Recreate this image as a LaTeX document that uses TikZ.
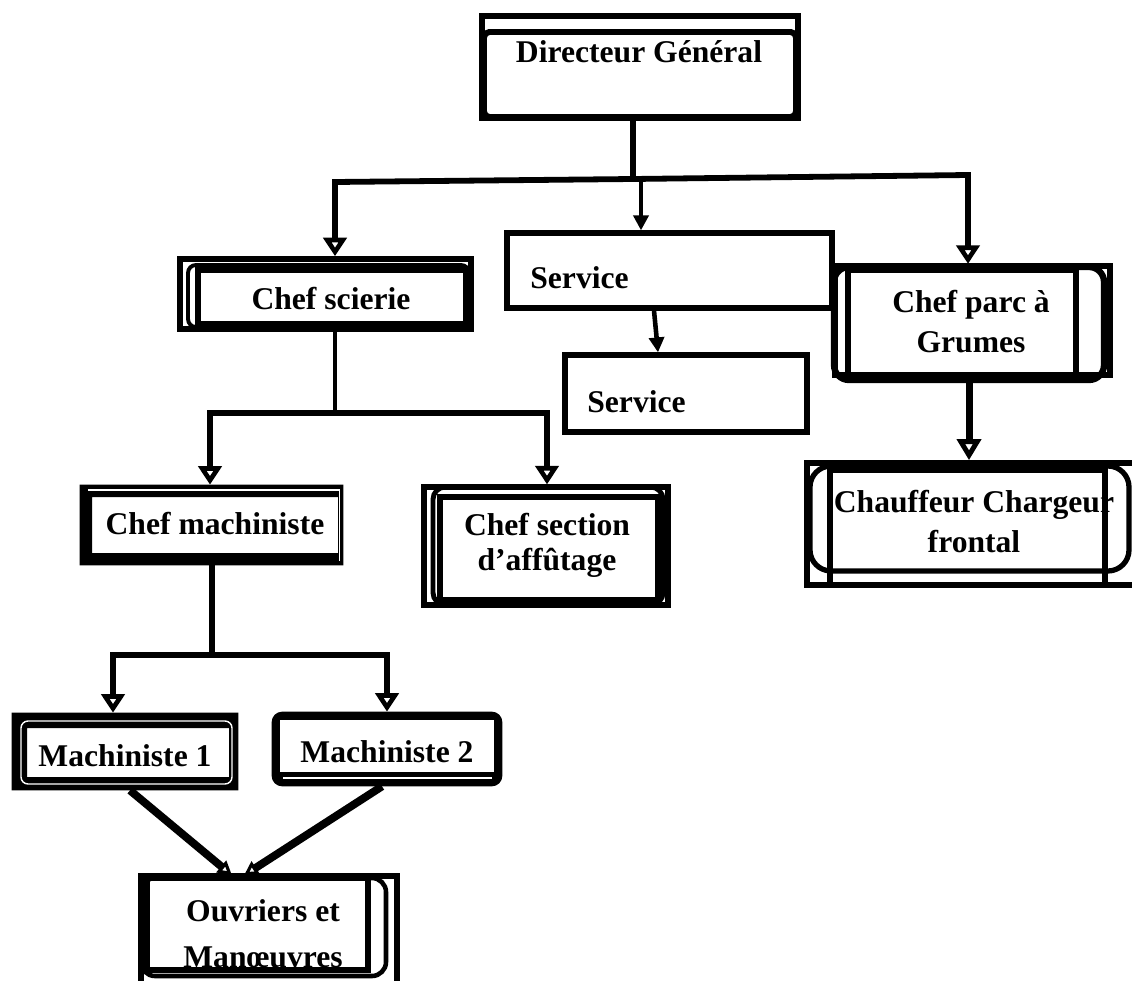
\documentclass[tikz,border=0pt]{standalone}
\usepackage{fontspec}
\setmainfont{Liberation Serif}
\usetikzlibrary{arrows.meta,fit}
\begin{document}
\begin{tikzpicture}[x=0.02cm, y=-0.02cm,
  lbl/.style={font=\fontsize{18}{23.2}\selectfont\bfseries, align=center, inner sep=0pt},
  frame/.style={draw, line width=#1, inner sep=0pt},
  frame/.default=3.2pt,
  ghost/.style={inner sep=0pt},
  wire/.style={line width=#1, line join=miter},
  wire/.default=3.3pt,
  openarrow/.style={-{Triangle[open, length=10.5pt, width=13pt]}},
  bigarrow/.style={-{Triangle[open, length=12pt, width=13.5pt, line width=2.8pt 0]}},
  smallarrow/.style={-{Triangle[open, length=8pt, width=8.5pt, line width=1.8pt 0]}},
  fullarrow/.style={-{Triangle[length=8.5pt, width=8.5pt]}},
]
\path[use as bounding box, fill=white] (0,0) rectangle (1132,980);

% --- heavy solid frames
\node[ghost, fit={(80,485)(343,565)}] (cm) {};
\fill[even odd rule] (cm.north west) rectangle (cm.south east) (92,497) rectangle (338,553);
\draw[white, line width=0.6pt] (88,490) -- (339.5,490) -- (339.5,561);

\node[ghost, fit={(12,713)(238,790)}] (m1) {};
\fill[even odd rule] (m1.north west) rectangle (m1.south east) (27,728) rectangle (229,777);
\draw[white, line width=0.8pt, rounded corners=4pt] (21,721) rectangle (232,784);

\node[ghost, fit={(272,712)(502,786)}] (m2) {};
\fill[rounded corners=6pt] (m2.north west) rectangle (m2.south east);
\fill[white] (280,720) rectangle (494,772);
\draw[white, line width=0.6pt] (283,778) -- (492,778);

% --- labels
\node[lbl] (tDG) at (639,52) {Directeur Général};
\node[lbl] (tCS) at (331,299) {Chef scierie};
\node[lbl, anchor=west] (tSV1) at (530,277.5) {Service};
\node[lbl, anchor=west] (tSV2) at (587,402) {Service};
\node[lbl] (tCP) at (971,321.5) {Chef parc à\\Grumes};
\node[lbl] (tCC) at (974,521.5) {Chauffeur Chargeur\\frontal};
\node[lbl] (tCM) at (215,524) {Chef machiniste};
\node[lbl, font=\fontsize{18}{19.8}\selectfont\bfseries] (tCSA) at (547,545) {Chef section\\d’affûtage};
\node[lbl] (tM1) at (125,756) {Machiniste 1};
\node[lbl] (tM2) at (387,752) {Machiniste 2};
\node[lbl, font=\fontsize{18}{26}\selectfont\bfseries] (tOU) at (263,934) {Ouvriers et\\Manœuvres};

% --- outlined frames
\draw[line width=3pt] (482,16) rectangle (798,118);
\node[frame=3.4pt, rounded corners=3pt, fit={(484,32)(796,117)}] (dg) {};

\node[frame=3pt, fit={(507,233)(832,308)}] (sv1) {};
\node[frame=3pt, fit={(565,355)(807,432)}] (sv2) {};

\node[frame=3.2pt, fit={(180,259)(471,329)}] (cs) {};
\draw[line width=2.2pt, rounded corners=4.5pt] (188,265) rectangle (469,327);
\draw[line width=3.4pt] (198,270) rectangle (466,324);

\node[frame=3.6pt, rounded corners=8.5pt, fit={(834,267)(1104,380)}] (cp) {};
\draw[line width=3pt] (835,266) rectangle (1110,375);
\draw[line width=3pt] (848,270) rectangle (1076,377);

\node[frame=3.2pt, fit={(807,463)(1140,585)}] (cc) {};
\draw[line width=3pt, rounded corners=12pt] (810,466) rectangle (1129,571);
\draw[line width=3.2pt] (830,470) rectangle (1105,585);

\node[frame=3pt, fit={(424,487)(668,605)}] (csa) {};
\draw[line width=2.8pt, rounded corners=7pt] (433,487) rectangle (663,605);
\draw[line width=3pt] (440,497) rectangle (658,600);

\draw[line width=3.4pt] (141,876) rectangle (397,995);
\draw[line width=2.6pt, rounded corners=8pt] (141,878) rectangle (386,976);
\node[frame=3pt, fit={(147,878)(368,970)}] (ou) {};

% --- connectors
\coordinate (b0) at (633,179);
\coordinate (bM) at (641,179);
\coordinate (bL) at (335,182);
\coordinate (bR) at (968,175);
\draw[wire] (b0 |- dg.south) -- (b0);
\draw[wire, openarrow] (b0) -- (bL) -- (bL |- cs.north);
\draw[wire, openarrow] (b0) -- (bR) -- (bR |- cp.north);
\draw[wire=2.6pt, fullarrow] (bM) -- (bM |- sv1.north);
\draw[wire=2.6pt, fullarrow] ([xshift=-0.31cm]sv1.south) -- ([xshift=-0.56cm]sv2.north);
\draw[wire=4pt, bigarrow] (cp.south) -- (cp.south |- cc.north);

\coordinate (c0) at (335,413);
\coordinate (cL) at (210,413);
\coordinate (cR) at (547,413);
\draw[wire=2.6pt] (c0 |- cs.south) -- (c0);
\draw[wire, openarrow] (c0) -- (cL) -- (cL |- cm.north);
\draw[wire, openarrow] (c0) -- (cR) -- (cR |- csa.north);

\coordinate (d0) at (212,655);
\coordinate (dL) at (113,655);
\coordinate (dR) at (387,655);
\draw[wire=3pt] (d0 |- cm.south) -- (d0);
\draw[wire=3.8pt, openarrow] (d0) -- (dL) -- (dL |- m1.north);
\draw[wire=3.8pt, openarrow] (d0) -- (dR) -- (dR |- m2.north);

\draw[wire=4.5pt, smallarrow] ([xshift=0.1cm]m1.south) -- ([xshift=-0.51cm]ou.north);
\draw[wire=4.5pt, smallarrow] ([xshift=-0.1cm]m2.south) -- ([xshift=-0.27cm]ou.north);
\end{tikzpicture}
\end{document}
